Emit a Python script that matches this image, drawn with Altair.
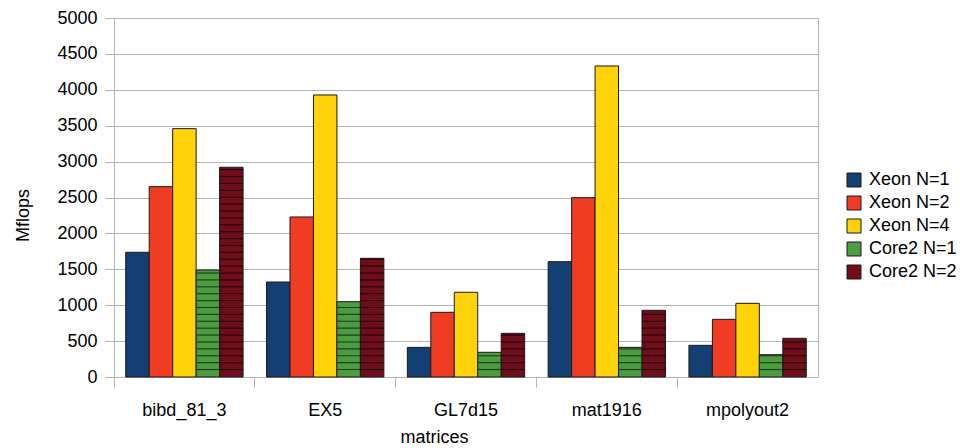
import altair as alt
import pandas as pd

matrices = ["bibd_81_3", "EX5", "GL7d15", "mat1916", "mpolyout2"]
series = ["Xeon N=1", "Xeon N=2", "Xeon N=4", "Core2 N=1", "Core2 N=2"]
colors = ["#143f73", "#f03c23", "#ffd20a", "#4c9c40", "#700d1a"]
y_ticks = [0, 500, 1000, 1500, 2000, 2500, 3000, 3500, 4000, 4500, 5000]

xeon1 = [1737, 1323, 413, 1606, 441]
xeon2 = [2651, 2229, 901, 2498, 803]
xeon4 = [3459, 3928, 1180, 4332, 1026]
core1 = [1490, 1049, 344, 413, 311]
core2 = [2921, 1653, 608, 929, 539]

rows = []
for s, vals in zip(series, [xeon1, xeon2, xeon4, core1, core2]):
    for m, v in zip(matrices, vals):
        rows.append({"matrix": m, "series": s, "value": v})
df = pd.DataFrame(rows)

FONT = "Liberation Sans"

x_axis = alt.Axis(labelAngle=0, bandPosition=0, tickSize=10,
                  labelPadding=14, titlePadding=9, titleX=320)
y_axis = alt.Axis(values=y_ticks, format="d", tickSize=9, labelPadding=8,
                  titlePadding=24, grid=True, labelOverlap=False, titleY=197)
x_scale = alt.Scale(paddingInner=0, paddingOuter=0)
xo_scale = alt.Scale(paddingInner=0, paddingOuter=0.5)
y_scale = alt.Scale(domain=[0, 5000])

bars = alt.Chart(df).mark_bar(stroke="#1a1a1a", strokeWidth=1).encode(
    x=alt.X("matrix:N", sort=matrices, title="matrices", scale=x_scale, axis=x_axis),
    xOffset=alt.XOffset("series:N", sort=series, scale=xo_scale),
    y=alt.Y("value:Q", stack=None, title="Mflops", scale=y_scale, axis=y_axis),
    color=alt.Color("series:N", sort=series,
                    scale=alt.Scale(domain=series, range=colors),
                    legend=alt.Legend(title=None, orient="none", legendX=731, legendY=153,
                                      symbolType="square", symbolSize=196,
                                      symbolStrokeColor="#1a1a1a", symbolStrokeWidth=1,
                                      labelFontSize=18, labelFont=FONT, labelColor="#000000",
                                      rowPadding=5, labelOffset=6, labelLimit=200)),
)

stripes = alt.Chart(df).transform_filter(
    "indexof(['Core2 N=1','Core2 N=2'], datum.series) >= 0"
).transform_calculate(
    stripe="sequence(96, datum.value, 96)"
).transform_flatten(["stripe"]).transform_calculate(
    stripe_top="datum.stripe + 16"
).mark_bar().encode(
    x=alt.X("matrix:N", sort=matrices, title="matrices", scale=x_scale, axis=x_axis),
    xOffset=alt.XOffset("series:N", sort=series, scale=xo_scale),
    y=alt.Y("stripe:Q", stack=None, title="Mflops", scale=y_scale, axis=y_axis),
    y2="stripe_top:Q",
    fill=alt.condition("datum.series == 'Core2 N=1'", alt.value("#1f3d1c"), alt.value("#250408")),
)

chart = alt.layer(bars, stripes).properties(
    width=704, height=359,
    autosize=alt.AutoSizeParams(type="none"),
    padding={"left": 106, "top": 10, "right": 140, "bottom": 70},
).configure_view(
    stroke="#b3b3b3", strokeWidth=1
).configure_axis(
    labelFont=FONT, labelFontSize=18, labelColor="#000000",
    titleFont=FONT, titleFontSize=18, titleColor="#000000", titleFontWeight="normal",
    domainColor="#b3b3b3", tickColor="#b3b3b3", gridColor="#b3b3b3",
    domainWidth=1, tickWidth=1, gridWidth=1,
).configure_axisX(grid=False)

chart.save("out.html", embed_options={"renderer": "svg", "actions": False})
